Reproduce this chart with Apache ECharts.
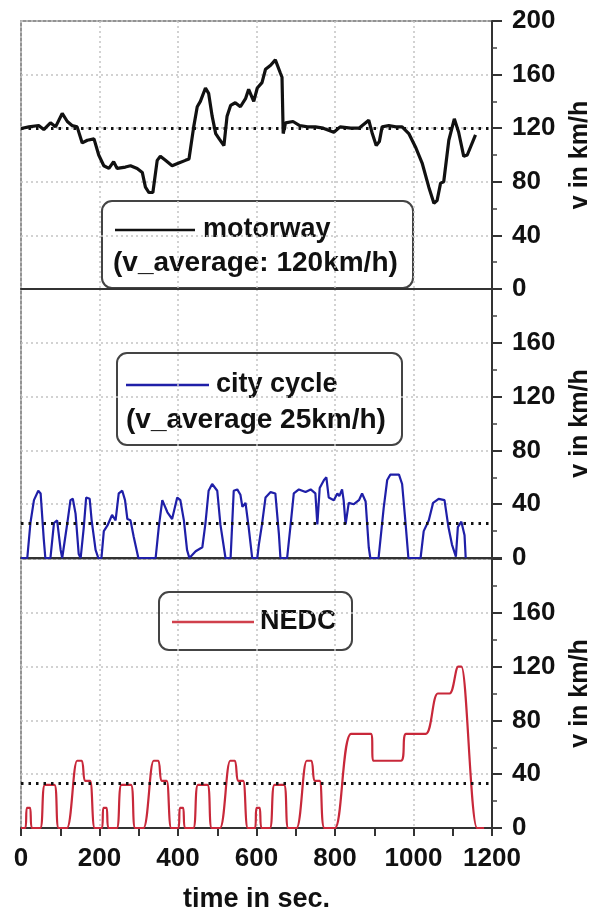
<!DOCTYPE html>
<html>
<head>
<meta charset="utf-8">
<script src="https://cdn.jsdelivr.net/npm/echarts@6/dist/echarts.min.js"></script>
<style>
  html, body { margin: 0; padding: 0; background: #fff; }
  #chart { width: 600px; height: 909px; }
</style>
</head>
<body>
<div id="chart"></div>
<script>
// motorway: time (s) and speed (km/h)
var motorTime = [3, 20, 45, 58, 75, 88, 105, 118, 130, 143, 156, 169, 186, 198, 211, 224, 236, 245, 266, 279,
  296, 309, 317, 326, 336, 347, 355, 368, 385, 402, 419, 428, 440, 449, 457, 470, 478, 487, 496, 505,
  517, 525, 534, 546, 559, 572, 580, 593, 602, 614, 623, 636, 648, 661, 665, 668, 674, 693, 710, 730,
  750, 770, 797, 813, 840, 861, 886, 895, 905, 913, 920, 937, 955, 971, 988, 1005, 1022, 1039, 1052, 1060,
  1069, 1077, 1090, 1104, 1115, 1128, 1137, 1158];
var motorSpeed = [120, 121, 122, 119, 124, 121, 131, 125, 122, 121, 109, 111, 112, 100, 92, 90, 95, 90, 91, 92,
  90, 87, 76, 72, 72, 96, 99, 96, 92, 94, 96, 97, 121, 136, 140, 150, 146, 129, 116, 112,
  107, 129, 137, 139, 136, 142, 149, 140, 150, 154, 164, 167, 171, 161, 158, 116, 124, 125, 122, 121,
  121, 120, 117, 121, 120, 120, 126, 116, 107, 110, 121, 122, 121, 121, 116, 106, 94, 76, 64, 66,
  79, 80, 111, 127, 117, 99, 100, 115];

// city cycle: middle panel
var cityTime = [0, 16, 24, 33, 44, 50, 58, 62, 75, 84, 92, 101, 105, 118, 126, 132, 139, 147, 152, 160,
  166, 175, 180, 190, 197, 205, 211, 220, 232, 241, 249, 258, 265, 271, 279, 287, 299, 343, 351, 360,
  373, 385, 398, 406, 415, 423, 429, 445, 462, 470, 478, 487, 500, 508, 521, 534, 542, 551, 559, 564,
  572, 580, 589, 602, 606, 614, 623, 636, 648, 657, 661, 678, 687, 695, 708, 725, 738, 750, 755, 761,
  772, 778, 784, 797, 806, 811, 818, 822, 827, 835, 848, 861, 869, 878, 886, 890, 911, 924, 933, 941,
  963, 971, 980, 987, 1018, 1026, 1039, 1050, 1064, 1079, 1089, 1098, 1108, 1113, 1122, 1130, 1133];
var citySpeed = [0, 0, 26, 43, 50, 48, 14, 0, 0, 26, 28, 6, 0, 26, 43, 44, 33, 3, 0, 23,
  45, 44, 28, 6, 0, 0, 20, 24, 32, 28, 48, 50, 43, 29, 28, 16, 0, 0, 23, 43,
  34, 29, 45, 43, 28, 6, 0, 5, 8, 26, 50, 55, 50, 25, 0, 0, 50, 51, 47, 38,
  41, 23, 0, 0, 10, 25, 45, 49, 48, 18, 0, 0, 25, 48, 51, 49, 51, 48, 25, 52,
  58, 60, 45, 43, 48, 46, 51, 43, 25, 41, 40, 43, 48, 42, 8, 0, 0, 37, 58, 62,
  62, 55, 25, 0, 0, 20, 28, 41, 44, 43, 23, 10, 1, 23, 27, 17, 0];

// NEDC: bottom panel
var nedcTime = [0, 11, 15, 23, 28, 49, 61, 85, 96, 117, 143, 155, 163, 176, 188,
  206, 210, 218, 223, 244, 256, 280, 291, 312, 338, 350, 358, 371, 383,
  401, 405, 413, 418, 439, 451, 475, 486, 507, 533, 545, 553, 566, 578,
  596, 600, 608, 613, 634, 646, 670, 681, 702, 728, 740, 748, 761, 773,
  800, 841, 891, 899, 968, 981, 1031, 1062, 1092, 1114, 1122, 1162, 1180];
var nedcSpeed = [0, 0, 15, 15, 0, 0, 32, 32, 0, 0, 50, 50, 35, 35, 0,
  0, 15, 15, 0, 0, 32, 32, 0, 0, 50, 50, 35, 35, 0,
  0, 15, 15, 0, 0, 32, 32, 0, 0, 50, 50, 35, 35, 0,
  0, 15, 15, 0, 0, 32, 32, 0, 0, 50, 50, 35, 35, 0,
  0, 70, 70, 50, 50, 70, 70, 100, 100, 120, 120, 0, 0];

// average speed lines
var averages = [120, 26, 33.6];
var seriesNames = ['motorway', 'city cycle', 'NEDC'];
var seriesColors = ['#111111', '#1f1fa8', '#c8283a'];
var yTicks = [0, 40, 80, 120, 160, 200];

function pairs(t, v) {
  var out = [];
  for (var i = 0; i < t.length; i++) out.push([t[i], v[i]]);
  return out;
}

var FONT = '"Liberation Sans", Arial, sans-serif';
var gridTop = [21, 289, 559];
var gridH = [268, 269, 269];

var grids = [], xAxes = [], yAxes = [];
for (var i = 0; i < 3; i++) {
  var bottom = (i === 2);
  grids.push({
    left: 21, right: 108, top: gridTop[i], height: gridH[i],
    outerBoundsMode: 'none',
    show: true, borderColor: '#707070', borderWidth: 1.5
  });
  xAxes.push({
    type: 'value', gridIndex: i, min: 0, max: 1200, interval: 200,
    axisLine: { show: true, onZero: false, lineStyle: { color: '#333', width: 2 } },
    axisTick: { show: bottom, length: 8, lineStyle: { color: '#333', width: 2 } },
    minorTick: { show: bottom, splitNumber: 2, length: 8, lineStyle: { color: '#333', width: 2 } },
    axisLabel: {
      show: bottom, margin: 18, fontSize: 26, fontWeight: 'bold', color: '#111', fontFamily: FONT,
      formatter: function (v) { return String(v); }
    },
    splitLine: { show: true, lineStyle: { color: '#c4c4c4', type: [2, 3], width: 1.5 } },
    name: bottom ? 'time in sec.' : '',
    nameLocation: 'middle', nameGap: 58,
    nameTextStyle: { fontSize: 27, fontWeight: 'bold', color: '#111', fontFamily: FONT }
  });
  yAxes.push({
    type: 'value', gridIndex: i, position: 'right', min: yTicks[0], max: yTicks[yTicks.length - 1], interval: 40,
    axisLine: { show: true, onZero: false, lineStyle: { color: '#333', width: 2 } },
    axisTick: { show: true, length: 10, lineStyle: { color: '#333', width: 2 } },
    minorTick: { show: true, splitNumber: 2, length: 5, lineStyle: { color: '#444', width: 1.5 } },
    axisLabel: { margin: 20, fontSize: 26, fontWeight: 'bold', color: '#111', fontFamily: FONT, showMaxLabel: i === 0 },
    splitLine: { show: true, lineStyle: { color: '#c4c4c4', type: [2, 3], width: 1.5 } },
    name: 'v in km/h', nameLocation: 'middle', nameRotate: 90, nameGap: 76,
    nameTextStyle: { fontSize: 25, fontWeight: 'bold', color: '#111', fontFamily: FONT }
  });
}

var data = [pairs(motorTime, motorSpeed), pairs(cityTime, citySpeed), pairs(nedcTime, nedcSpeed)];
var widths = [3.2, 2.2, 2.2];
var series = [];
for (var k = 0; k < 3; k++) {
  series.push({
    name: seriesNames[k], type: 'line', xAxisIndex: k, yAxisIndex: k,
    data: data[k], showSymbol: false, smooth: k === 2 ? 0.3 : false,
    lineStyle: { color: seriesColors[k], width: widths[k] },
    markLine: {
      silent: true, symbol: 'none', label: { show: false },
      lineStyle: { color: '#111', type: [2.5, 5], width: 3 },
      data: [{ yAxis: averages[k] }]
    },
    z: 3
  });
}

// legend boxes
function legendBox(x, y, w, h, lineX1, lineX2, lineY, color, label1, label1X, label2, label2X, label2Y) {
  var kids = [
    { type: 'rect', shape: { x: x, y: y, width: w, height: h, r: 10 },
      style: { fill: '#fff', stroke: '#444', lineWidth: 2 } },
    { type: 'line', shape: { x1: lineX1, y1: lineY, x2: lineX2, y2: lineY },
      style: { stroke: color, lineWidth: 2.5 } },
    { type: 'text', x: label1X, y: lineY,
      style: { text: label1, font: 'bold 27px ' + FONT, fill: '#111', verticalAlign: 'middle' } }
  ];
  if (label2) {
    kids.push({ type: 'text', x: label2X, y: label2Y,
      style: { text: label2, font: 'bold 28px ' + FONT, fill: '#111', verticalAlign: 'middle' } });
  }
  return { type: 'group', z: 10, children: kids };
}

var option = {
  backgroundColor: '#fff',
  animation: false,
  grid: grids,
  xAxis: xAxes,
  yAxis: yAxes,
  series: series,
  graphic: [
    legendBox(102, 201, 311, 87, 115, 195, 230, seriesColors[0], 'motorway', 203, '(v_average: 120km/h)', 113, 263),
    legendBox(117, 353, 285, 92, 126, 209, 385, seriesColors[1], 'city cycle', 216, '(v_average 25km/h)', 126, 420),
    legendBox(159, 592, 193, 58, 172, 254, 622, '#d0404c', 'NEDC', 260, null)
  ]
};

var myChart = echarts.init(document.getElementById('chart'));
myChart.setOption(option);
</script>
</body>
</html>
